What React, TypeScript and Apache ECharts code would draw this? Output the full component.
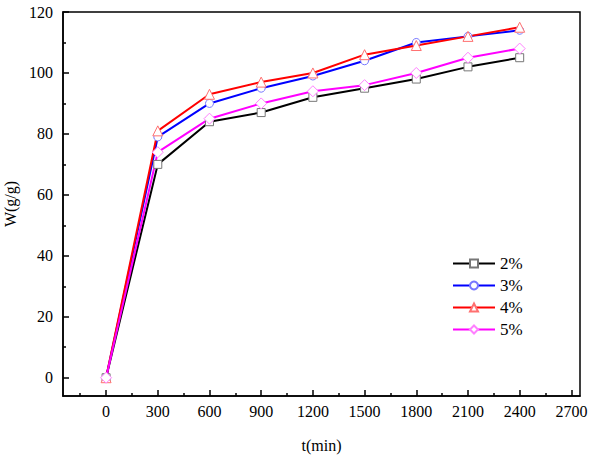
import React, { useEffect, useRef } from 'react';
import * as echarts from 'echarts';

const times = [0, 300, 600, 900, 1200, 1500, 1800, 2100, 2400];
const w2 = [0, 70, 84, 87, 92, 95, 98, 102, 105];
const w3 = [0, 79, 90, 95, 99, 104, 110, 112, 114];
const w4 = [0, 81, 93, 97, 100, 106, 109, 112, 115];
const w5 = [0, 74, 85, 90, 94, 96, 100, 105, 108];

const xTicks = [0, 300, 600, 900, 1200, 1500, 1800, 2100, 2400, 2700];
const xMinorTicks = [-150, 150, 450, 750, 1050, 1350, 1650, 1950, 2250, 2550];
const yTicks = [0, 20, 40, 60, 80, 100, 120];
const yMinorTicks = [10, 30, 50, 70, 90, 110];

const FONT = 'Liberation Serif';

const seriesDefs = [
  { name: '2%', data: w2, color: '#000000', marker: '#777777', symbol: 'rect' },
  { name: '3%', data: w3, color: '#0000ff', marker: '#7878ff', symbol: 'circle' },
  { name: '4%', data: w4, color: '#ff0000', marker: '#ff7070', symbol: 'triangle' },
  { name: '5%', data: w5, color: '#ff00ff', marker: '#ff80ff', symbol: 'diamond' },
];

const App: React.FC = () => {
  const chartRef = useRef<HTMLDivElement>(null);

  useEffect(() => {
    if (!chartRef.current) return;
    document.body.style.margin = '0';
    const chart = echarts.init(chartRef.current, undefined, { renderer: 'svg' });

    const axisLine = { show: true, onZero: false, lineStyle: { color: '#000', width: 1.5 } };
    const tickStyle = { color: '#000', width: 1.5 };
    const labelText = { fontFamily: FONT, fontSize: 16, color: '#000' };

    const option: echarts.EChartsOption = {
      animation: false,
      backgroundColor: '#fff',
      textStyle: { fontFamily: FONT },
      grid: {
        left: 63,
        right: 14,
        top: 12,
        bottom: 62,
        show: true,
        borderColor: '#000',
        borderWidth: 1.5,
        containLabel: false,
        outerBoundsMode: 'none',
      } as any,
      legend: {
        orient: 'vertical',
        left: 452,
        top: 255,
        padding: 0,
        itemWidth: 42,
        itemHeight: 10,
        itemGap: 5,
        textStyle: { fontFamily: FONT, fontSize: 17, color: '#000' },
        data: seriesDefs.map(s => s.name),
      },
      xAxis: [
        {
          type: 'value',
          min: -250,
          max: 2750,
          name: 't(min)',
          nameLocation: 'middle',
          nameGap: 41,
          nameTextStyle: labelText,
          axisLine,
          axisTick: { show: true, inside: true, length: 6, customValues: xTicks, lineStyle: tickStyle },
          axisLabel: { customValues: xTicks, margin: 7, formatter: (v: number) => String(v), ...labelText },
          splitLine: { show: false },
        },
        {
          type: 'value',
          min: -250,
          max: 2750,
          position: 'bottom',
          axisLine: { show: false, onZero: false },
          axisTick: { show: true, inside: true, length: 3, customValues: xMinorTicks, lineStyle: tickStyle },
          axisLabel: { show: false },
          splitLine: { show: false },
        },
      ],
      yAxis: [
        {
          type: 'value',
          min: -6,
          max: 120,
          name: 'W(g/g)',
          nameLocation: 'middle',
          nameGap: 45,
          nameTextStyle: labelText,
          axisLine,
          axisTick: { show: true, inside: true, length: 6, customValues: yTicks, lineStyle: tickStyle },
          axisLabel: { customValues: yTicks, margin: 10, formatter: (v: number) => String(v), ...labelText },
          splitLine: { show: false },
        },
        {
          type: 'value',
          min: -6,
          max: 120,
          position: 'left',
          axisLine: { show: false, onZero: false },
          axisTick: { show: true, inside: true, length: 3, customValues: yMinorTicks, lineStyle: tickStyle },
          axisLabel: { show: false },
          splitLine: { show: false },
        },
      ],
      series: seriesDefs.map(s => ({
        name: s.name,
        type: 'line',
        xAxisIndex: 0,
        yAxisIndex: 0,
        data: times.map((t, i) => [t, s.data[i]]),
        symbol: s.symbol,
        symbolSize: s.symbol === 'diamond' ? 11 : s.symbol === 'triangle' ? 10 : 8,
        showAllSymbol: true,
        lineStyle: { color: s.color, width: 2 },
        itemStyle: { color: '#fff', borderColor: s.marker, borderWidth: 1 },
      })),
    };

    chart.setOption(option);
    return () => chart.dispose();
  }, []);

  return <div ref={chartRef} style={{ width: 594, height: 458 }} />;
};

export default App;
